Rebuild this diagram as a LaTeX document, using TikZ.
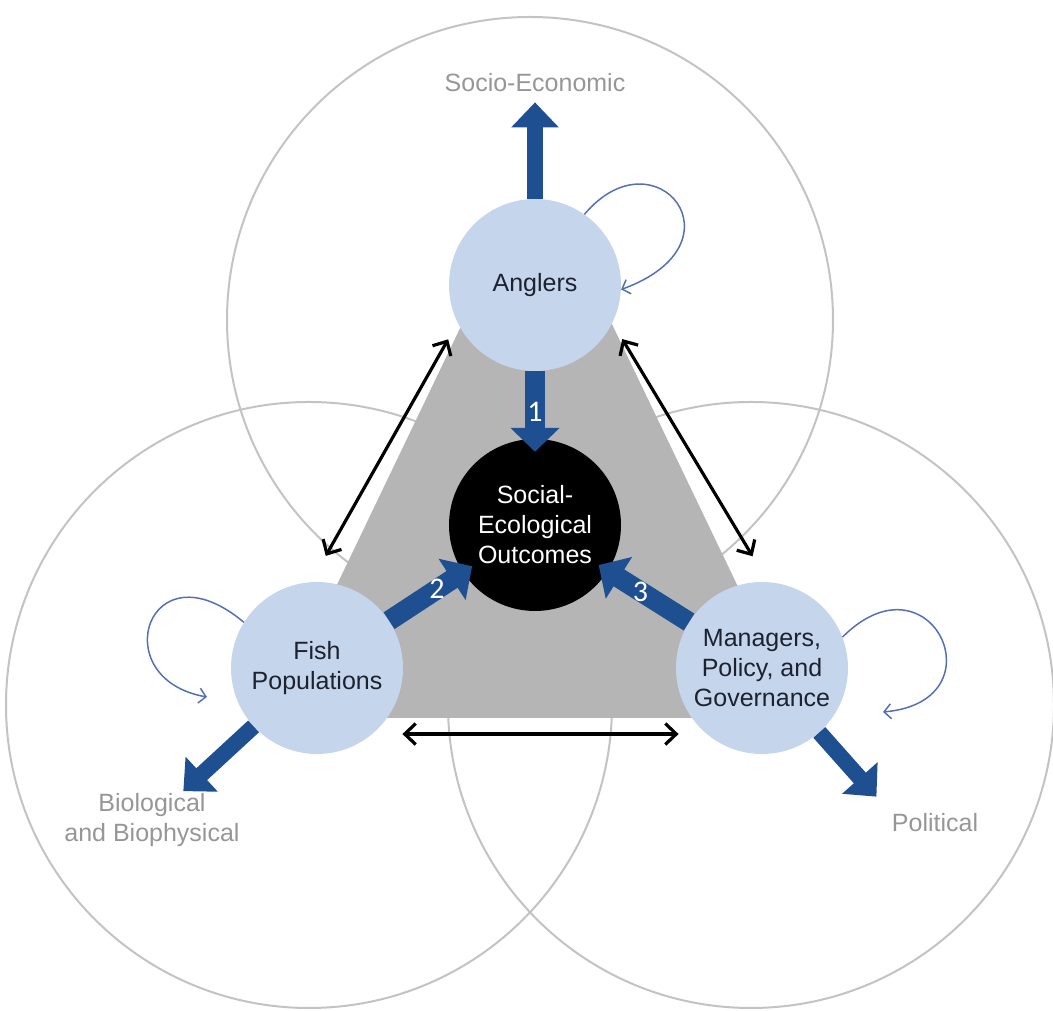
\documentclass[tikz,border=0pt]{standalone}
\usepackage{fontspec}
\setmainfont{Liberation Sans}
\newfontfamily\numfont{Carlito}
\usetikzlibrary{arrows.meta,backgrounds,positioning}

\definecolor{nodeblue}{RGB}{197,214,236}
\definecolor{arrowblue}{RGB}{30,80,145}
\definecolor{loopblue}{RGB}{84,112,180}
\definecolor{zonegray}{RGB}{195,195,195}
\definecolor{coregray}{RGB}{181,181,181}
\definecolor{labelgray}{RGB}{150,150,150}
\definecolor{textdark}{RGB}{28,34,48}

\begin{document}
\begin{tikzpicture}[x=1pt,y=1pt,
	actor/.style={circle, fill=nodeblue, minimum size=172pt, inner sep=0pt, align=center, text=textdark, font=\fontsize{25}{30}\selectfont},
	outcome/.style={actor, fill=black, text=white},
	realm/.style={text=labelgray, align=center, inner sep=2pt, font=\fontsize{25}{30}\selectfont},
	zone/.style={draw=zonegray, line width=2pt},
	flow/.style={draw=arrowblue, line width=20pt, -{Triangle[length=24pt,width=48pt]}},
	spill/.style={draw=arrowblue, line width=16pt, -{Triangle[length=25pt,width=46pt]}},
	link/.style={line width=3.2pt, {Straight Barb[length=11pt,width=21pt]}-{Straight Barb[length=11pt,width=21pt]}},
	selfloop/.style={draw=loopblue, line width=1.5pt, -{Straight Barb[length=7pt,width=15pt]}},
	num/.style={text=white, font=\numfont\fontsize{30}{30}\selectfont, inner sep=0pt}]
	\useasboundingbox (0,0) rectangle (1053,1011);
	
	\node[actor] (anglers) at (535,726) {Anglers};
	\node[actor] (fish) at (317,343) {Fish\\Populations};
	\node[actor] (managers) at (762,343) {Managers,\\Policy, and\\Governance};
	\node[outcome] (seo) at (535,486) {Social-\\Ecological\\Outcomes};
	
	\node[realm] (socio) at (535,928) {Socio-Economic};
	\node[realm] (bio) at (152,191) {Biological\\and Biophysical};
	\node[realm] (political) at (935,188) {Political};
	
	\draw[spill, shorten >=8pt] (anglers) -- (socio);
	\draw[spill] (fish) -- (bio);
	\draw[spill, shorten >=20pt] (managers) -- (political.north west);
	
	\draw[flow, shorten >=-13pt] (anglers) -- node[num, pos=0.6] {1} (seo);
	\draw[flow, shorten >=-11pt] (fish) -- node[num, pos=0.65] {2} (seo);
	\draw[flow, shorten >=-11pt] (managers) -- node[num, pos=0.6] {3} (seo);
	
	\draw[link, shorten <=30pt, shorten >=19pt] (fish.94) -- (anglers.206);
	\draw[link, shorten <=19pt, shorten >=30pt] (anglers.334) -- (managers.86);
	\draw[link, shorten <=30pt, shorten >=28pt] (fish.-50) -- (managers.230);
	
	\coordinate (fish back) at (207,314);
	\coordinate (managers back) at (883,299);
	\draw[selfloop] (anglers.55) .. controls +(50:110) and +(20:135) .. (anglers.-3);
	\draw[selfloop] (fish.148) .. controls +(140:125) and +(170:105) .. (fish back);
	\draw[selfloop] (managers.21) .. controls +(45:125) and +(5:120) .. (managers back);
	
	\begin{scope}[on background layer]
		\draw[zone] (530,691) circle[radius=303];
		\draw[zone] (309,306) circle[radius=303];
		\draw[zone] (751,306) circle[radius=303];
		\fill[coregray] (488,741) -- (586,741) -- (801,293) -- (273,293) -- cycle;
	\end{scope}
\end{tikzpicture}
\end{document}
